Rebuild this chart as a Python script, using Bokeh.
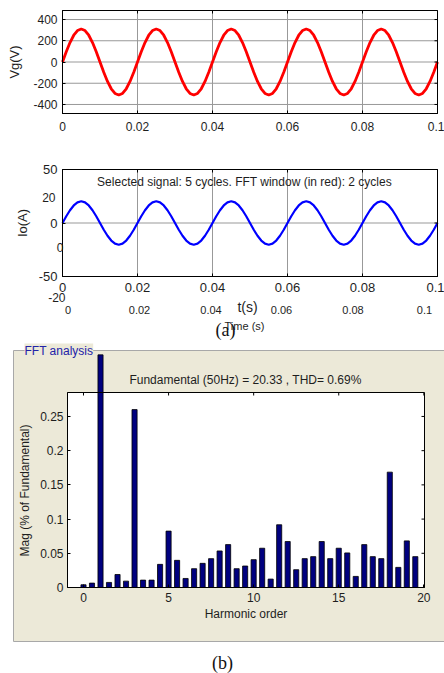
import math
from bokeh.plotting import figure
from bokeh.models import FixedTicker, LinearAxis, Label, BoxAnnotation, Range1d
from bokeh.layouts import column
from bokeh.embed import file_html
from bokeh.resources import INLINE

# ---------------- data ----------------
time_s = [round(0.001 * k, 3) for k in range(101)]  # sample instants, 1 ms apart
vg_volts = [0, 96, 183, 252, 296, 311, 296, 252, 183, 96, 0, -96, -183, -252, -296, -311, -296, -252, -183, -96,
            0, 96, 183, 252, 296, 311, 296, 252, 183, 96, 0, -96, -183, -252, -296, -311, -296, -252, -183, -96,
            0, 96, 183, 252, 296, 311, 296, 252, 183, 96, 0, -96, -183, -252, -296, -311, -296, -252, -183, -96,
            0, 96, 183, 252, 296, 311, 296, 252, 183, 96, 0, -96, -183, -252, -296, -311, -296, -252, -183, -96,
            0, 96, 183, 252, 296, 311, 296, 252, 183, 96, 0, -96, -183, -252, -296, -311, -296, -252, -183, -96,
            0]
io_amps = [0, 6.3, 11.9, 16.4, 19.3, 20.3, 19.3, 16.4, 11.9, 6.3, 0, -6.3, -11.9, -16.4, -19.3, -20.3, -19.3, -16.4, -11.9, -6.3,
           0, 6.3, 11.9, 16.4, 19.3, 20.3, 19.3, 16.4, 11.9, 6.3, 0, -6.3, -11.9, -16.4, -19.3, -20.3, -19.3, -16.4, -11.9, -6.3,
           0, 6.3, 11.9, 16.4, 19.3, 20.3, 19.3, 16.4, 11.9, 6.3, 0, -6.3, -11.9, -16.4, -19.3, -20.3, -19.3, -16.4, -11.9, -6.3,
           0, 6.3, 11.9, 16.4, 19.3, 20.3, 19.3, 16.4, 11.9, 6.3, 0, -6.3, -11.9, -16.4, -19.3, -20.3, -19.3, -16.4, -11.9, -6.3,
           0, 6.3, 11.9, 16.4, 19.3, 20.3, 19.3, 16.4, 11.9, 6.3, 0, -6.3, -11.9, -16.4, -19.3, -20.3, -19.3, -16.4, -11.9, -6.3,
           0]

t_ticks = [0, 0.02, 0.04, 0.06, 0.08, 0.1]
t_tick_labels = ["0", "0.02", "0.04", "0.06", "0.08", "0.1"]
vg_ticks = [-400, -200, 0, 200, 400]
vg_tick_labels = ["-400", "-200", "0", "200", "400"]
io_ticks = [-50, 0, 50]
io_tick_labels = ["-50", "0", "50"]
io_grid = [0]
ghost_io_labels = ["20", "0", "-20"]

harmonic_order = [0, 0.5, 1, 1.5, 2, 2.5, 3, 3.5, 4, 4.5, 5, 5.5, 6, 6.5, 7, 7.5, 8, 8.5, 9, 9.5,
                  10, 10.5, 11, 11.5, 12, 12.5, 13, 13.5, 14, 14.5, 15, 15.5, 16, 16.5, 17, 17.5, 18, 18.5, 19, 19.5]
mag_pct = [0.004, 0.0064, 100, 0.0074, 0.019, 0.0093, 0.26, 0.0108, 0.0108, 0.0338,
           0.0824, 0.0397, 0.0132, 0.0275, 0.0353, 0.0422, 0.0534, 0.0627, 0.0275, 0.0314,
           0.0407, 0.0574, 0.0123, 0.0917, 0.0672, 0.026, 0.0422, 0.0451, 0.0672, 0.0422,
           0.0574, 0.0505, 0.0162, 0.0627, 0.0451, 0.0422, 0.1686, 0.0294, 0.0681, 0.0451]
harm_ticks = [0, 5, 10, 15, 20]
harm_tick_labels = ["0", "5", "10", "15", "20"]
mag_ticks = [0, 0.05, 0.1, 0.15, 0.2, 0.25]
mag_tick_labels = ["0", "0.05", "0.1", "0.15", "0.2", "0.25"]

fft_title = "Fundamental (50Hz) = 20.33 , THD= 0.69%"
signal_note = "Selected signal: 5 cycles. FFT window (in red): 2 cycles"
panel_title = "FFT analysis"

# ---------------- style ----------------
SANS = "Liberation Sans"
SERIF = "Liberation Serif"
TXT = "#1e1e1e"
BEIGE = "#ECE9D8"
NAVY = "#00007F"
GRID = "#999999"
BAR_W = 0.3
DISPLAY_CAP = 0.34   # the fundamental bar is cut at the panel title, as in the picture


def make_fig(cw, ch, box, lims):
    """Frame = whole canvas; the axes box sits at pixel box (l, r, t, b)."""
    l, r, t, b = box
    x0, x1, y0, y1 = lims
    sx = (x1 - x0) / (r - l)
    sy = (y1 - y0) / (b - t)
    p = figure(width=cw, height=ch, title=None,
               x_range=Range1d(x0 - l * sx, x1 + (cw - r) * sx),
               y_range=Range1d(y0 - (ch - b) * sy, y1 + t * sy),
               output_backend="svg", toolbar_location=None,
               min_border_left=0, min_border_right=0, min_border_top=0, min_border_bottom=0,
               background_fill_color="white", border_fill_color="white")
    p.xaxis.visible = False
    p.yaxis.visible = False
    p.grid.visible = False
    p.outline_line_color = None
    return p


def add_axes(p, lims, xticks, xlabels, yticks, ylabels, fs, xstand, ystand):
    x0, x1, y0, y1 = lims
    common = dict(major_label_text_font=SANS, major_label_text_font_size=fs, major_label_text_color=TXT,
                  major_tick_in=3, major_tick_out=0, minor_tick_line_color=None,
                  axis_line_color="black", major_tick_line_color="black")
    bottom = LinearAxis(fixed_location=y0, bounds=(x0, x1), ticker=FixedTicker(ticks=xticks),
                        major_label_overrides=dict(zip(xticks, xlabels)), major_label_standoff=xstand, **common)
    left = LinearAxis(fixed_location=x0, bounds=(y0, y1), ticker=FixedTicker(ticks=yticks),
                      major_label_overrides=dict(zip(yticks, ylabels)), major_label_standoff=ystand, **common)
    p.add_layout(bottom, "below")
    p.add_layout(left, "left")
    # mirrored inward tick marks on the top and right edges
    p.ray(x=xticks, y=[y1] * len(xticks), length=3, length_units="screen", angle=-math.pi / 2,
          line_color="black", line_width=1)
    p.ray(x=[x1] * len(yticks), y=yticks, length=3, length_units="screen", angle=math.pi,
          line_color="black", line_width=1)
    p.add_layout(BoxAnnotation(left=x0, right=x1, bottom=y0, top=y1, fill_color=None,
                               line_color="black", line_alpha=1, line_width=1))


def add_text(p, x, y, text, size, font=SANS, align="center", color=TXT, angle=0.0, **kw):
    p.add_layout(Label(x=x, y=y, x_units="canvas", y_units="canvas", text=text,
                       text_font=font, text_font_size=size, text_align=align, angle=angle,
                       text_baseline="middle", text_color=color, **kw))


# ---------------- (a) top: Vg ----------------
A_LIM = (0, 0.1, -485, 485)
pA = make_fig(444, 150, (62, 437, 10, 113), A_LIM)
pA.segment(x0=t_ticks, y0=[A_LIM[2]] * len(t_ticks), x1=t_ticks, y1=[A_LIM[3]] * len(t_ticks),
           line_color=GRID, line_width=1)
pA.segment(x0=[A_LIM[0]] * len(vg_ticks), y0=vg_ticks, x1=[A_LIM[1]] * len(vg_ticks), y1=vg_ticks,
           line_color=GRID, line_width=1)
pA.line(time_s, vg_volts, line_color="#FF0000", line_width=2.8)
add_axes(pA, A_LIM, t_ticks, t_tick_labels, vg_ticks, vg_tick_labels, "12px", 8, 5)
add_text(pA, 14, 61.5, "Vg(V)", "13px", angle=math.pi / 2)

# ---------------- (a) bottom: Io ----------------
B_LIM = (0, 0.1, -50, 50)
pB = make_fig(444, 190, (62, 437, 19, 126), B_LIM)
pB.segment(x0=t_ticks, y0=[B_LIM[2]] * len(t_ticks), x1=t_ticks, y1=[B_LIM[3]] * len(t_ticks),
           line_color=GRID, line_width=1)
pB.segment(x0=[B_LIM[0]] * len(io_grid), y0=io_grid, x1=[B_LIM[1]] * len(io_grid), y1=io_grid,
           line_color=GRID, line_width=1)
pB.line(time_s, io_amps, line_color="#0000FF", line_width=2.2)
add_axes(pB, B_LIM, t_ticks, t_tick_labels, io_ticks, io_tick_labels, "13px", 6, 5)
add_text(pB, 22, 72.5, "Io(A)", "13px", angle=math.pi / 2)
add_text(pB, 244, 31, signal_note, "12px")
# labels of a second, overlapping time axis left in the picture
for lbl, xs in zip(t_tick_labels, [67.5, 139, 210.5, 281, 352.5, 424]):
    add_text(pB, xs, 159, lbl, "11px")
for lbl, xs, ys in zip(ghost_io_labels, [55, 63, 65], [47, 97, 147]):
    add_text(pB, xs, ys, lbl, "12px", align="right")
add_text(pB, 247, 156, "t(s)", "14px")
add_text(pB, 244, 175, "Time (s)", "11px")
add_text(pB, 225, 179, "(a)", "18px", font=SERIF, color="#111111")

# ---------------- (b) FFT ----------------
C_LIM = (-0.94, 20.04, 0, 0.285)
pC = make_fig(444, 333, (67, 424, 52, 247), C_LIM)
pC.add_layout(BoxAnnotation(left=13, right=470, top=10, bottom=301, left_units="canvas", right_units="canvas",
                            top_units="canvas", bottom_units="canvas", fill_color=BEIGE, fill_alpha=1,
                            line_color="#A8A8A8", line_alpha=1, line_width=1, level="underlay"))
pC.add_layout(BoxAnnotation(left=C_LIM[0], right=C_LIM[1], bottom=C_LIM[2], top=C_LIM[3],
                            fill_color="white", fill_alpha=1, line_color=None, level="underlay"))
bar_tops = [min(v, DISPLAY_CAP) for v in mag_pct]
pC.vbar(x=harmonic_order, top=bar_tops, width=BAR_W, fill_color=NAVY, line_color="black", line_width=0.8)
add_axes(pC, C_LIM, harm_ticks, harm_tick_labels, mag_ticks, mag_tick_labels, "12px", 5, 4)
add_text(pC, 24, 10, panel_title, "12px", align="left", color="#2323A8",
         background_fill_color=BEIGE, background_fill_alpha=1)
add_text(pC, 245, 39, fft_title, "12px")
add_text(pC, 245.5, 273, "Harmonic order", "12px")
add_text(pC, 24, 150, "Mag (% of Fundamental)", "12px", angle=math.pi / 2)
add_text(pC, 222, 322, "(b)", "18px", font=SERIF, color="#111111")

layout = column(pA, pB, pC)
open("out.html", "w").write(file_html(layout, INLINE))
